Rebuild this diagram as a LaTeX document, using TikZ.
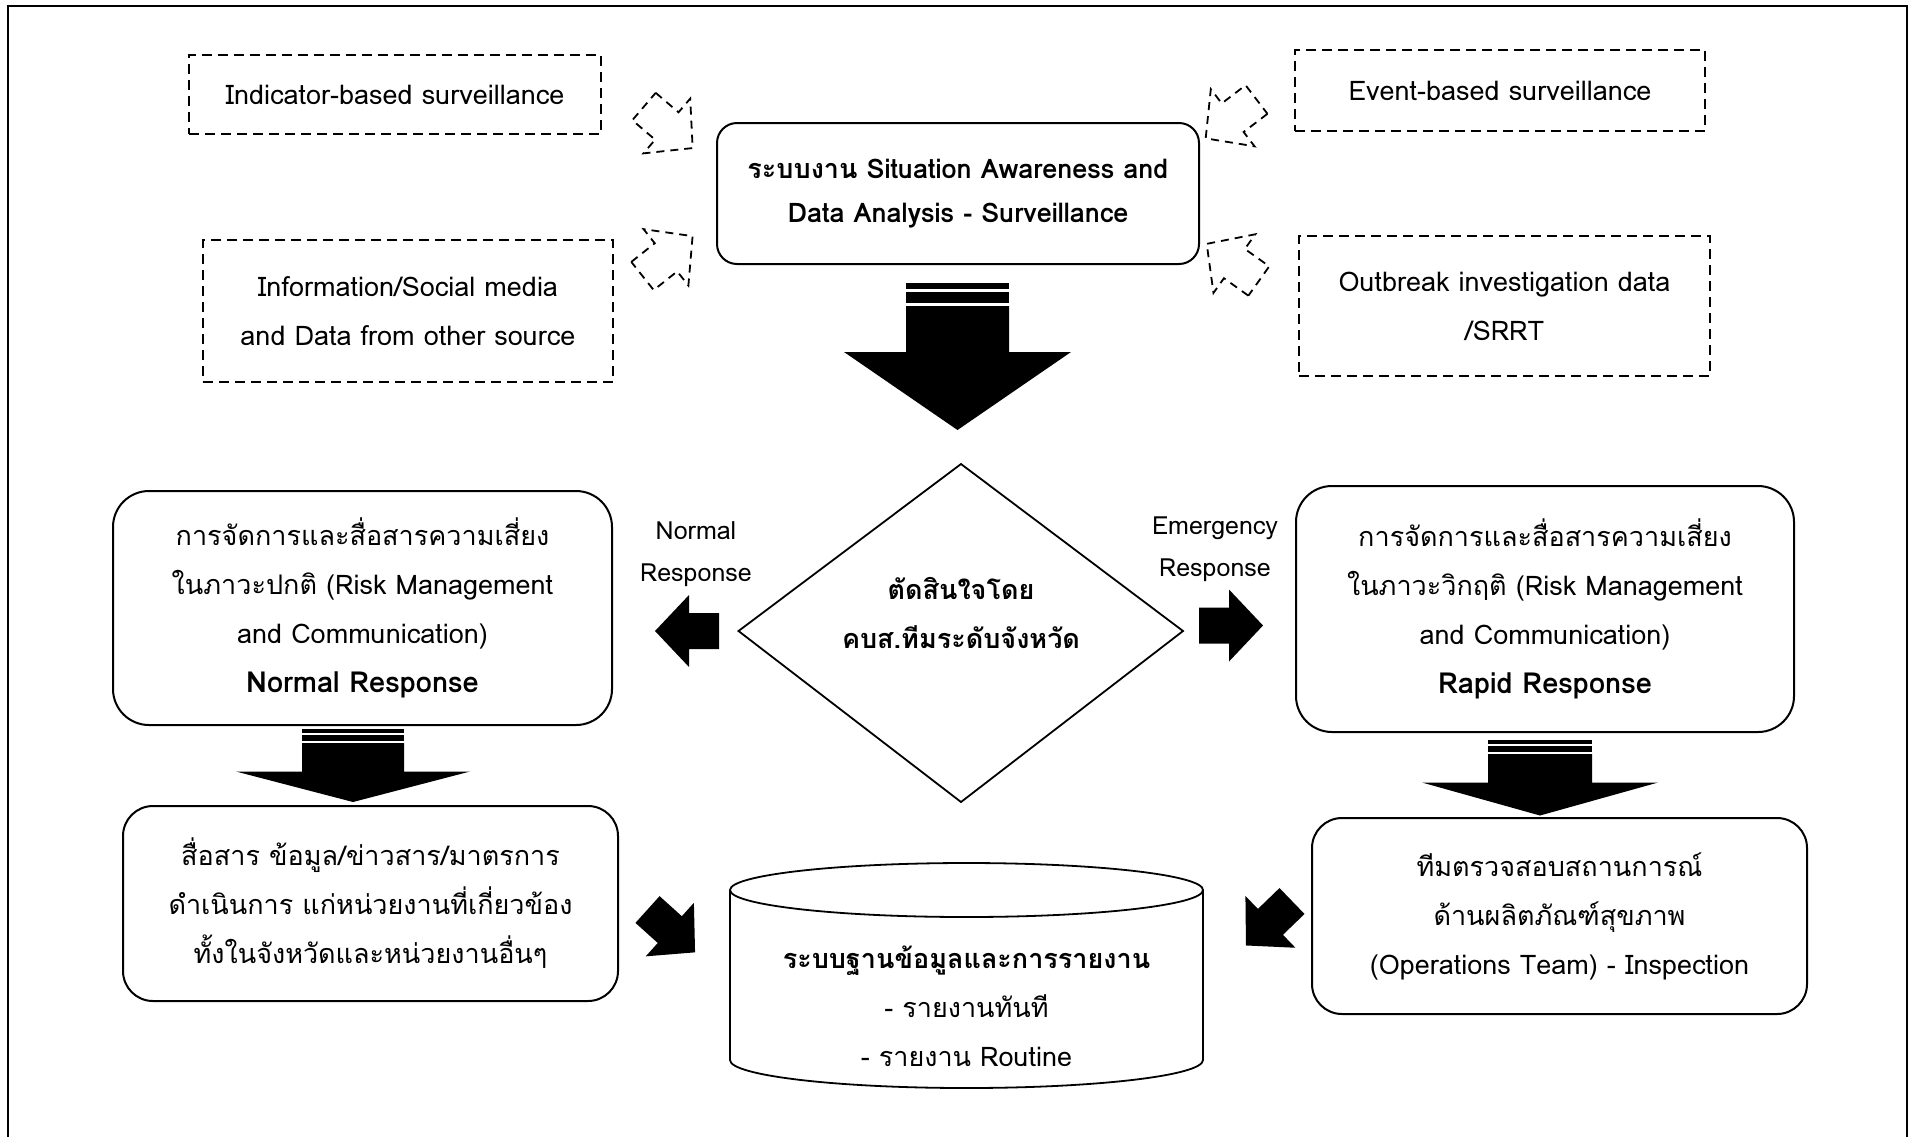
\documentclass[tikz,border=0pt]{standalone}
\usepackage{fontspec}
\setmainfont{Loma}[Script=Thai]

\tikzset{
  dbox/.style={draw, line width=0.9pt, dash pattern=on 5pt off 3pt, align=center, inner sep=0pt},
  rbox/.style={draw, line width=1pt, align=center, inner sep=0pt},
  txt/.style={font=\fontsize{13.5}{24.5}\selectfont},
  lbl/.style={align=center, font=\fontsize{12.5}{21}\selectfont},
  darrow/.style={draw, line width=0.9pt, dash pattern=on 4pt off 3pt},
}

% block arrow: back centre (#2,#3), direction #4
\newcommand{\blockarrow}[4][]{%
  \filldraw[#1, shift={(#2,#3)}, rotate=#4] (0,-18) -- (30,-18) -- (30,-36)
  -- (64,0) -- (30,36) -- (30,18) -- (0,18) -- cycle;}

\begin{document}
\begin{tikzpicture}[x=0.5pt, y=-0.5pt]
    \useasboundingbox (0,0) rectangle (1914,1136);
    \draw[line width=1pt] (7.5,1160) -- (7.5,6) -- (1907,6) -- (1907,1160);

    % sources
    \node[dbox, txt, minimum width=206pt, minimum height=39.5pt] (ibs) at (395,94.5)
        {Indicator-based surveillance};
    \node[dbox, txt, minimum width=205pt, minimum height=40.5pt] (ebs) at (1500,90.5)
        {Event-based surveillance};
    \node[dbox, txt, minimum width=205pt, minimum height=71pt] (info) at (408,311)
        {Information/Social media\\and Data from other source};
    \node[dbox, txt, minimum width=205.5pt, minimum height=70pt] (outb) at (1504.5,306)
        {Outbreak investigation data\\/SRRT};

    \node[rbox, rounded corners=10pt, minimum width=241pt, minimum height=70.5pt,
        font=\fontsize{13.5}{22}\selectfont\bfseries] (sada) at (958,193.5)
        {ระบบงาน Situation Awareness and\\Data Analysis - Surveillance};

    \foreach \x/\y/\a in {644/106.5/-40.5, 642.5/276/38.5, 1256.5/99.5/217.4, 1258.8/281/144.5}
        \blockarrow[darrow, fill=none]{\x}{\y}{\a};

    % big arrows with stripes
    \foreach \cx/\ty/\hy/\tp/\sw/\hw in {957.5/283/352/430/51.5/113.5,
        353/729/771.5/802/51/117, 1540/740/782.5/815.5/52/118}
    {
        \pgfmathsetmacro{\s}{(\hy-\ty)/69}
        \fill (\cx-\sw,\ty) rectangle (\cx+\sw,\ty+6*\s);
        \fill (\cx-\sw,\ty+9*\s) rectangle (\cx+\sw,\ty+20*\s);
        \fill (\cx-\sw,\ty+23*\s) -- (\cx-\sw,\hy) -- (\cx-\hw,\hy) -- (\cx,\tp)
            -- (\cx+\hw,\hy) -- (\cx+\sw,\hy) -- (\cx+\sw,\ty+23*\s) -- cycle;
    }

    % decision
    \draw[line width=0.9pt] (738.5,631) -- (961,464) -- (1183,631) -- (961,802) -- cycle;
    \node[align=center, font=\fontsize{13.5}{24.5}\selectfont\bfseries] (dec) at (961,612.5)
        {ตัดสินใจโดย\\คบส.ทีมระดับจังหวัด};
    \node[lbl] (nres) at (696,554) {Normal\\Response};
    \node[lbl] (eres) at (1215,549) {Emergency\\Response};
    \blockarrow[fill=black, draw=none]{719}{631}{180}
    \blockarrow[fill=black, draw=none]{1199}{625.5}{0}

    % responses
    \node[rbox, txt, rounded corners=18pt, minimum width=249.5pt, minimum height=117pt]
        (nbox) at (362.5,608)
        {การจัดการและสื่อสารความเสี่ยง\\ในภาวะปกติ (Risk Management\\and Communication)\\{\fontsize{14.5}{24.5}\selectfont\bfseries Normal Response}};
    \node[rbox, txt, rounded corners=18pt, minimum width=249pt, minimum height=123pt]
        (rbox) at (1545,609)
        {การจัดการและสื่อสารความเสี่ยง\\ในภาวะวิกฤติ (Risk Management\\and Communication)\\{\fontsize{14.5}{24.5}\selectfont\bfseries Rapid Response}};

    \node[rbox, txt, rounded corners=15pt, minimum width=247.5pt, minimum height=97.5pt]
        (comm) at (370.5,903.5)
        {สื่อสาร ข้อมูล/ข่าวสาร/มาตรการ\\ดำเนินการ แก่หน่วยงานที่เกี่ยวข้อง\\ทั้งในจังหวัดและหน่วยงานอื่นๆ};
    \node[rbox, txt, rounded corners=15pt, minimum width=247.5pt, minimum height=98pt]
        (ops) at (1559.5,916)
        {ทีมตรวจสอบสถานการณ์\\ด้านผลิตภัณฑ์สุขภาพ\\(Operations Team) - Inspection};

    % database
    \draw[line width=0.9pt] (966.5,890) ellipse [x radius=236.5, y radius=27];
    \draw[line width=0.9pt] (730,890) -- (730,1060)
        arc[start angle=180, end angle=0, x radius=236.5, y radius=28] -- (1203,890);
    \node[txt, align=center] (db) at (966.5,1006.5)
        {\textbf{ระบบฐานข้อมูลและการรายงาน}\\- รายงานทันที\\- รายงาน Routine};

    \blockarrow[fill=black, draw=none]{647.5}{909.5}{-42}
    \blockarrow[fill=black, draw=none]{1292}{901}{224}
\end{tikzpicture}
\end{document}
